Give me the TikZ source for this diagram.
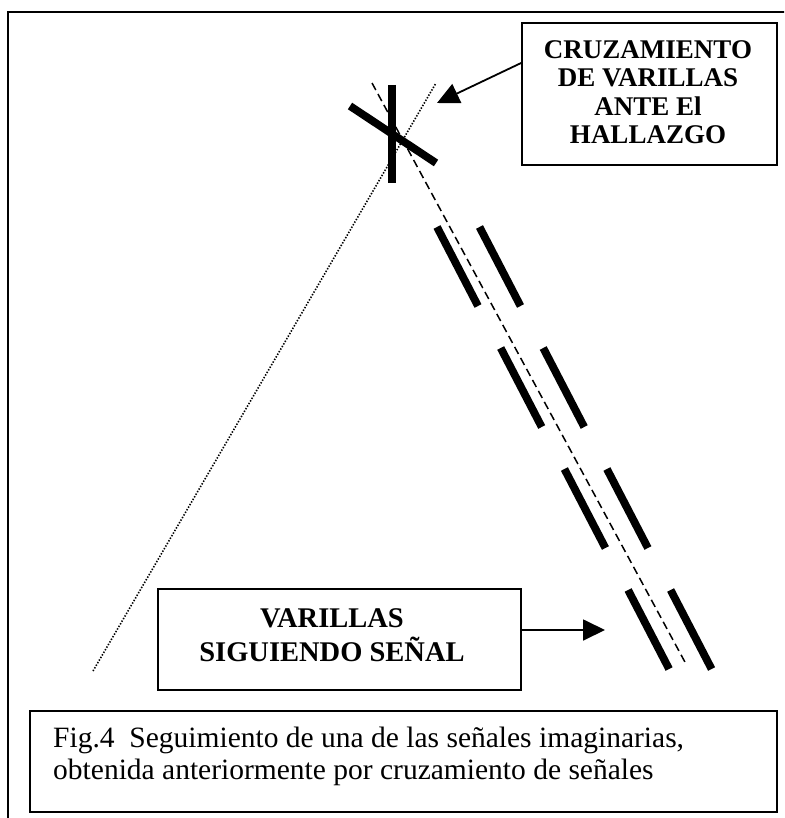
\documentclass[tikz,border=0pt]{standalone}
\usepackage{fontspec}
\setmainfont{Liberation Serif}
\usetikzlibrary{arrows.meta}
\begin{document}
\begin{tikzpicture}[x=1pt,y=-1pt,
  frame/.style={line width=1.6pt},
  boxstyle/.style={draw, line width=1.8pt, inner sep=0pt},
  lbl/.style={font=\fontsize{27}{28.5}\selectfont\bfseries, align=center, inner sep=0pt},
  arr/.style={line width=1.8pt, -{Triangle[length=22pt,width=21pt]}},
  rod/.style={line width=7.8pt},
  trail/.style={line width=1.5pt, dash pattern=on 8pt off 4.5pt},
  sight/.style={line width=1.6pt, dash pattern=on 1.4pt off 1.6pt}]
\useasboundingbox (0,0) rectangle (784,818);
\clip (0,0) rectangle (784,818);
% outer frame (cut off at right and bottom)
\draw[frame] (8,900) -- (8,12) -- (900,12);
% boxes
\node[boxstyle, minimum width=255pt, minimum height=142pt] (cruz) at (649.5,94) {};
\node[lbl] (cruzlbl) at (648,92) {CRUZAMIENTO\\DE VARILLAS\\ANTE El\\HALLAZGO};
\node[boxstyle, minimum width=363pt, minimum height=101pt] (var) at (339.5,639.5) {};
\node[lbl, font=\fontsize{28.5}{34}\selectfont\bfseries] (varlbl) at (332,635) {VARILLAS\\SIGUIENDO SEÑAL};
\node[boxstyle, minimum width=747pt, minimum height=101pt] (fig) at (403.5,761.5) {};
\node[anchor=north west, inner sep=0pt, align=left, font=\fontsize{29.5}{32}\selectfont] (figlbl) at (53,727) {Fig.4\ \ Seguimiento de una de las señales imaginarias,\\obtenida anteriormente por cruzamiento de señales};
% sight lines
\draw[trail] (372,83) -- (686,664);
\draw[sight] (93,671) -- (436,83);
% crossing rods
\draw[rod] (392,85) -- (392,183);
\draw[rod] (350,106) -- (436,163);
% rods following the signal
\foreach \i in {0,...,3} {
  \draw[rod] ({437+63.7*\i},{227+121*\i}) -- ++(41,79);
  \draw[rod] ({479.5+63.7*\i},{227+121*\i}) -- ++(41,79);
}
% arrows
\coordinate (cs) at (0,63);
\coordinate (ctip) at (437,103);
\draw[arr] (cruz.west |- cs) -- (ctip);
\coordinate (vs) at (0,630);
\coordinate (vtip) at (605,630);
\draw[arr] (var.east |- vs) -- (vtip);
\end{tikzpicture}
\end{document}
